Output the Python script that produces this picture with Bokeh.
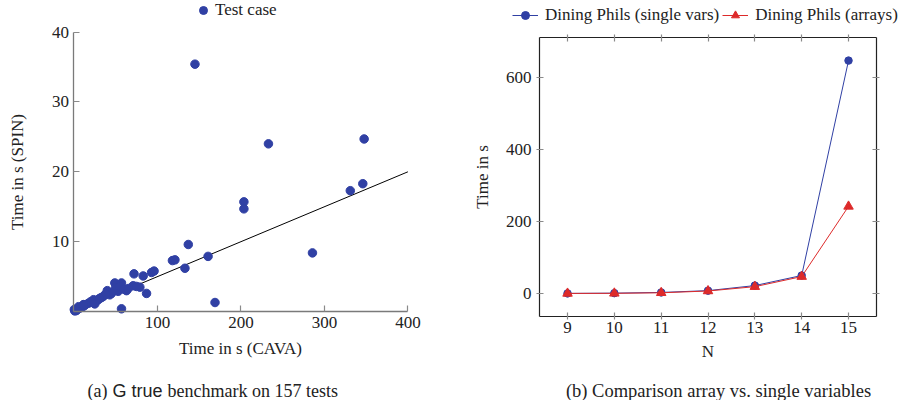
from bokeh.plotting import figure
from bokeh.models import Range1d, LinearAxis, FixedTicker, Legend, LegendItem, Label, CustomJSTickFormatter
from bokeh.layouts import row
from bokeh.embed import file_html
from bokeh.resources import INLINE

# ---------------- data: (a) scatter ----------------
cava_time = [145, 347.6, 233, 203.6, 203.6, 137, 331, 346, 285.7, 160.7, 169,
             118, 121, 133, 93, 96, 72, 83, 87, 57, 49, 57, 71, 79, 63, 53, 43,
             35.4, 29, 23.5, 17.5, 11.5, 5.6, 0.5, 40, 45, 50, 55, 60, 33, 27,
             20, 14, 9, 7, 4, 2, 1, 25, 65, 75, 38, 31, 12, 3]
spin_time = [35.4, 24.7, 24.0, 15.7, 14.7, 9.6, 17.3, 18.3, 8.4, 7.9, 1.3,
             7.3, 7.4, 6.2, 5.6, 5.8, 5.4, 5.1, 2.6, 0.4, 4.1, 4.1, 3.7, 3.5, 3.0, 2.9, 2.4,
             2.2, 1.7, 1.7, 1.2, 1.0, 0.7, 0.3, 3.0, 2.6, 3.4, 3.6, 3.2, 2.0, 1.5,
             1.4, 1.0, 0.6, 0.5, 0.3, 0.2, 0.1, 1.1, 3.3, 3.6, 2.5, 1.9, 0.8, 0.15]
ref_slope = 0.05
ref_x_end = 400
x_ticks_a = [100, 200, 300, 400]
y_ticks_a = [10, 20, 30, 40]

# ---------------- data: (b) lines ----------------
n_phils = [9, 10, 11, 12, 13, 14, 15]
single_vars = [0.3, 1, 3, 8, 22, 50, 647]
arrays = [0.2, 0.5, 2, 7, 19, 47, 242]
y_ticks_b = [0, 200, 400, 600]

FONT = "Liberation Serif"
TXT = "#222222"
BLUE = "#3040a4"
RED = "#dd2a2a"
TICK = "#8a8a8a"


def style_axis(ax, fs="17px"):
    ax.major_label_text_font = FONT
    ax.major_label_text_font_size = fs
    ax.major_label_text_color = TXT
    ax.axis_label_text_font = FONT
    ax.axis_label_text_font_size = "17px"
    ax.axis_label_text_font_style = "normal"
    ax.axis_label_text_color = TXT
    ax.minor_tick_line_color = None
    ax.major_tick_line_color = TICK
    ax.major_tick_line_width = 1.2


NOBORDER = dict(min_border_left=0, min_border_right=0, min_border_top=0, min_border_bottom=0)

# ---------------- (a) ----------------
p1 = figure(width=458, height=400, x_range=Range1d(-87.9, 460.6), y_range=Range1d(-12.72, 44.51),
            x_axis_location=None, y_axis_location=None,
            toolbar_location=None, output_backend="svg", **NOBORDER)
p1.outline_line_color = None
p1.grid.visible = False

xa = LinearAxis(fixed_location=0, bounds=(0, x_ticks_a[-1]), ticker=FixedTicker(ticks=x_ticks_a),
                axis_label="Time in s (CAVA)")
ya = LinearAxis(fixed_location=0, bounds=(0, y_ticks_a[-1]), ticker=FixedTicker(ticks=y_ticks_a),
                axis_label="Time in s (SPIN)")
for ax in (xa, ya):
    style_axis(ax)
    ax.axis_line_color = "#7a7a7a"
    ax.axis_line_width = 1.3
    ax.major_tick_in = 6
    ax.major_tick_out = 0
xa.major_label_standoff = 5
xa.axis_label_standoff = 8
ya.major_label_standoff = 5
ya.axis_label_standoff = 22
p1.add_layout(xa, "below")
p1.add_layout(ya, "left")

p1.line([0, ref_x_end], [0, ref_slope * ref_x_end], color="black", line_width=1)
sc = p1.scatter(cava_time, spin_time, size=8.5, marker="circle", color=BLUE)

leg_kw = dict(orientation="horizontal", padding=0, margin=0, border_line_color=None,
              background_fill_alpha=0, label_text_font=FONT, label_text_font_size="17px",
              label_text_color=TXT, glyph_height=20, label_height=20)
leg1 = Legend(items=[LegendItem(label="Test case", renderers=[sc])], location=(193, 380),
              glyph_width=20, label_standoff=2, **leg_kw)
p1.add_layout(leg1)

cap_kw = dict(x_units="screen", y_units="screen", text_font_size="18px",
              text_color=TXT, text_baseline="alphabetic", text_align="left")
p1.add_layout(Label(x=87, y=10, text="(a)", text_font=FONT, **cap_kw))
p1.add_layout(Label(x=112, y=10, text="G true", text_font="Liberation Sans", **cap_kw))
p1.add_layout(Label(x=167, y=10, text="benchmark on 157 tests", text_font=FONT, **cap_kw))

# ---------------- (b) ----------------
# axis limits enlarged by 10 % of the data range (pgfplots default)
x_lo = n_phils[0] - 0.1 * (n_phils[-1] - n_phils[0])
x_hi = n_phils[-1] + 0.1 * (n_phils[-1] - n_phils[0])
y_min = min(single_vars + arrays)
y_max = max(single_vars + arrays)
y_lo = y_min - 0.1 * (y_max - y_min)
y_hi = y_max + 0.1 * (y_max - y_min)

p2 = figure(width=442, height=400, x_range=Range1d(6.672, 16.110), y_range=Range1d(-297.2, 813.9),
            x_axis_location=None, y_axis_location=None,
            toolbar_location=None, output_backend="svg", **NOBORDER)
p2.grid.visible = False
p2.outline_line_color = None

blank = CustomJSTickFormatter(code="return ''")
ax_b = LinearAxis(fixed_location=y_lo, bounds=(x_lo, x_hi), ticker=FixedTicker(ticks=n_phils),
                  axis_label="N")
ax_t = LinearAxis(fixed_location=y_hi, bounds=(x_lo, x_hi), ticker=FixedTicker(ticks=n_phils),
                  formatter=blank)
ax_l = LinearAxis(fixed_location=x_lo, bounds=(y_lo, y_hi), ticker=FixedTicker(ticks=y_ticks_b),
                  axis_label="Time in s")
ax_r = LinearAxis(fixed_location=x_hi, bounds=(y_lo, y_hi), ticker=FixedTicker(ticks=y_ticks_b),
                  formatter=blank)
for ax in (ax_b, ax_t, ax_l, ax_r):
    style_axis(ax)
    ax.axis_line_color = "#222222"
    ax.axis_line_width = 1.2
    ax.major_tick_in = 4
    ax.major_tick_out = 3
ax_b.major_label_standoff = 2
ax_b.axis_label_standoff = 6
ax_l.major_label_standoff = 5
ax_l.axis_label_standoff = 11
p2.add_layout(ax_b, "below")
p2.add_layout(ax_t, "above")
p2.add_layout(ax_l, "left")
p2.add_layout(ax_r, "right")

l1 = p2.line(n_phils, single_vars, color=BLUE, line_width=1)
m1 = p2.scatter(n_phils, single_vars, marker="circle", size=7.5, color=BLUE)
l2 = p2.line(n_phils, arrays, color=RED, line_width=1)
m2 = p2.scatter(n_phils, arrays, marker="triangle", size=9.5, color=RED)

leg2 = Legend(items=[LegendItem(label="Dining Phils (single vars)", renderers=[l1, m1]),
                     LegendItem(label="Dining Phils (arrays)", renderers=[l2, m2])],
              location=(54, 375), glyph_width=26, label_standoff=7, spacing=3, **leg_kw)
p2.add_layout(leg2)

p2.add_layout(Label(x=260, y=10, x_units="screen", y_units="screen",
                    text="(b) Comparison array vs. single variables", text_font=FONT,
                    text_font_size="18.5px", text_color=TXT, text_baseline="alphabetic",
                    text_align="center"))

layout = row(p1, p2)
open("out.html", "w").write(file_html(layout, INLINE))
